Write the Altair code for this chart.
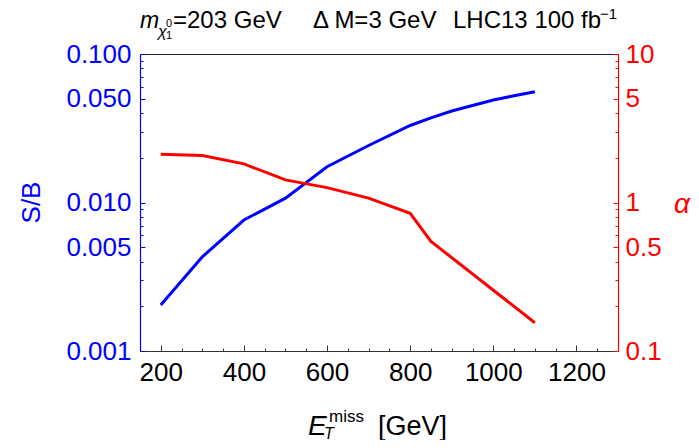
import altair as alt
import pandas as pd

# ---- data ----
met_blue = [200, 300, 400, 500, 600, 700, 800, 850, 900, 950, 1000, 1050, 1100]
s_over_b = [0.00204, 0.00431, 0.00762, 0.0107, 0.0174, 0.0242, 0.0330, 0.0371,
            0.0413, 0.0450, 0.0490, 0.0523, 0.0557]
met_red = [200, 300, 400, 500, 600, 700, 800, 850, 1100]
alpha_vals = [2.11, 2.07, 1.82, 1.42, 1.26, 1.07, 0.846, 0.547, 0.155]

x_major = [200, 400, 600, 800, 1000, 1200]
x_minor = [150, 250, 300, 350, 450, 500, 550, 650, 700, 750, 850, 900, 950,
           1050, 1100, 1150, 1250]
sb_labels = [0.001, 0.005, 0.01, 0.05, 0.1]
sb_minor = [0.002, 0.003, 0.004, 0.006, 0.007, 0.008, 0.009,
            0.02, 0.03, 0.04, 0.06, 0.07, 0.08, 0.09]

BLUE = "#0000ff"
RED = "#ff0000"
FRAME = "#333333"
FONT = "Liberation Sans"
W, H = 478, 297

blue_df = pd.DataFrame({"met": met_blue, "sb": s_over_b})
red_df = pd.DataFrame({"met": met_red, "alpha": alpha_vals})

xscale = alt.Scale(domain=[150, 1300], nice=False, zero=False)
yscale = alt.Scale(type="log", domain=[0.001, 0.1], nice=False)

def X(axis):
    return alt.X("met:Q", scale=xscale, axis=axis)

def Y(field, axis):
    return alt.Y(f"{field}:Q", scale=yscale, axis=axis)

# blue line with bottom + left label axes
blue = alt.Chart(blue_df).mark_line(color=BLUE, strokeWidth=3).encode(
    x=X(alt.Axis(orient="bottom", values=x_major, format="d", ticks=False,
                 domainColor=FRAME, domainWidth=1.2, labelFontSize=26, labelFont=FONT,
                 labelColor="black", labelPadding=8, title=None, grid=False,
                 labelFlush=False)),
    y=Y("sb", alt.Axis(orient="left", values=sb_labels, format=".3f", ticks=False,
                       domainColor=BLUE, domainWidth=1.2, labelFontSize=26, labelFont=FONT,
                       labelColor=BLUE, labelPadding=9, title=None, grid=False,
                       labelFlush=False)),
)

# red line with top frame + right label axis
red = alt.Chart(red_df).transform_calculate(y="datum.alpha / 100").mark_line(
    color=RED, strokeWidth=3).encode(
    x=X(alt.Axis(orient="top", labels=False, ticks=False, domainColor="#1a1a4a",
                 domainWidth=1.2, title=None, grid=False)),
    y=Y("y", alt.Axis(orient="right", values=sb_labels, ticks=False,
                      labelExpr="datum.value*100 < 1 ? format(datum.value*100, '.1f') : format(datum.value*100, 'd')",
                      domainColor=RED, domainWidth=1.2, labelFontSize=26, labelFont=FONT,
                      labelColor=RED, labelPadding=7, title=None, grid=False,
                      labelFlush=False)),
)

def tick_layer(xvals, xsize, yvals, ysize, ycolor, yorient):
    xa = None
    if xvals is not None:
        xa = alt.Axis(orient="top", offset=-H, values=xvals, labels=False, domain=False,
                      tickSize=xsize, tickColor=FRAME, tickWidth=1, title=None, grid=False)
    ya = alt.Axis(orient=yorient, offset=-W, values=yvals, labels=False, domain=False,
                  tickSize=ysize, tickColor=ycolor, tickWidth=1, title=None, grid=False)
    return alt.Chart(blue_df).mark_point(opacity=0).encode(x=X(xa), y=Y("sb", ya))

t1 = tick_layer(x_major, 6, sb_labels, 5, BLUE, "right")
t2 = tick_layer(x_minor, 3, sb_minor, 3, BLUE, "right")
t3 = tick_layer(None, 0, sb_labels, 5, RED, "left")
t4 = tick_layer(None, 0, sb_minor, 3, RED, "left")

one = pd.DataFrame({"k": [0]})

def txt(s, x, y, size, color="black", italic=False, angle=0, align="left",
        baseline="alphabetic"):
    kw = dict(text=s, fontSize=size, font=FONT, color=color, align=align,
              baseline=baseline)
    if italic:
        kw["fontStyle"] = "italic"
    if angle:
        kw["angle"] = angle
    return alt.Chart(one).mark_text(**kw).encode(x=alt.value(x), y=alt.value(y))

texts = [
    # title
    txt("m", 0, -26, 23, italic=True),
    txt("χ", 18, -17, 16, italic=True),
    txt("0", 26, -27, 11),
    txt("1", 26, -15, 11),
    txt("=203 GeV", 33, -26, 24),
    txt("Δ M=3 GeV", 173, -26, 24),
    txt("LHC13 100 fb", 313, -26, 24),
    txt("−1", 460, -35, 15),
    # axis titles
    txt("S/B", -108, 148.5, 26, color=BLUE, angle=270, align="center", baseline="middle"),
    txt("α", 542, 151, 28, color=RED, italic=True, align="center", baseline="middle"),
    txt("E", 168, 381, 28, italic=True),
    txt("T", 184, 385, 16, italic=True),
    txt("miss", 189, 368, 17),
    txt("[GeV]", 238, 381, 27),
]

chart = alt.layer(t1, t2, t3, t4, blue, red, *texts).resolve_axis(
    x="independent", y="independent"
).properties(
    width=W, height=H,
    autosize=alt.AutoSizeParams(type="none"),
    padding={"left": 132, "top": 46, "right": 73, "bottom": 89},
).configure_view(stroke=None)

chart.save("out.html", embed_options={"renderer": "svg", "actions": False})
